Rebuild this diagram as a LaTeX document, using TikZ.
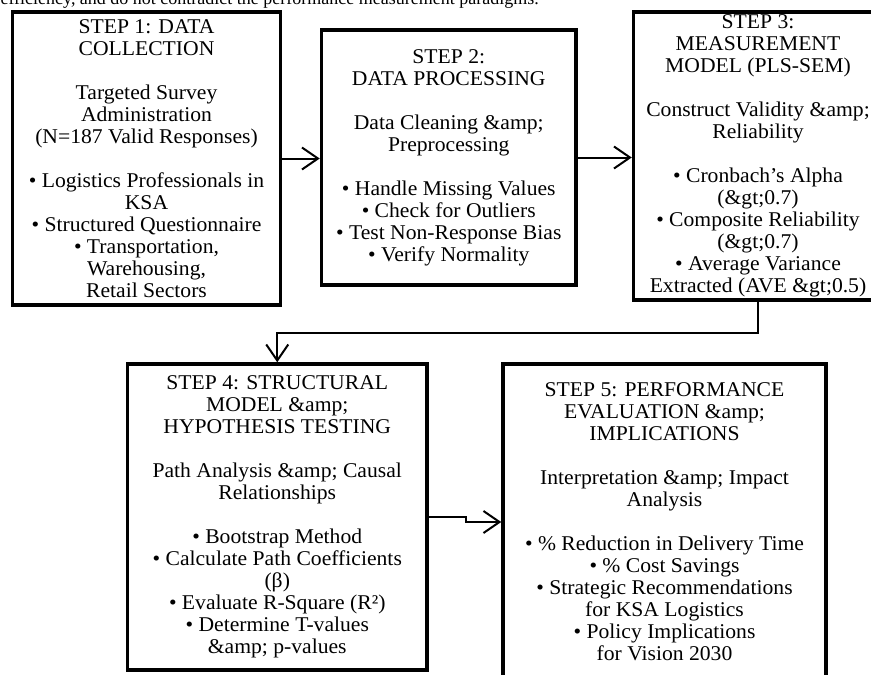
\documentclass[tikz,border=0pt]{standalone}
\usepackage{fontspec}
\setmainfont{Liberation Serif}[FakeStretch=1.03]
\newfontfamily\leadfont{Liberation Serif}
\usetikzlibrary{arrows.meta,positioning}
\newcommand{\gap}{\\[22pt]}

\begin{document}
\begin{tikzpicture}[
  x=1pt, y=-1pt,
  font=\fontsize{21}{22}\selectfont,
  stepbox/.style={
    draw,
    line width=3.5pt,
    align=center,
    inner sep=0pt,
    fill=white
  },
  flow/.style={-{Straight Barb[length=16pt,width=22pt,line width=2pt]}, line width=2pt}
]
\useasboundingbox (0,0) rectangle (871,675);
\clip (0,0) rectangle (871,675);

\node[anchor=base west, font=\leadfont\fontsize{18}{22}\selectfont] (lead) at (-3,4) {efficiency, and do not contradict the performance measurement paradigms.};

\node[stepbox, minimum width=268pt, minimum height=293pt] (collect) at (146.5,158.5) {STEP 1: DATA\\COLLECTION\gap
  Targeted Survey\\Administration\\(N=187 Valid Responses)\gap
  • Logistics Professionals in\\KSA\\• Structured Questionnaire\\• Transportation,\\Warehousing,\\Retail Sectors};
\node[stepbox, minimum width=254.5pt, minimum height=255pt] (process) at (448.75,157.5) {STEP 2:\\DATA PROCESSING\gap
  Data Cleaning \&amp;\\Preprocessing\gap
  • Handle Missing Values\\• Check for Outliers\\• Test Non-Response Bias\\• Verify Normality};
\node[stepbox, minimum width=249pt, minimum height=288pt] (measure) at (758,156) {STEP 3:\\MEASUREMENT\\MODEL (PLS-SEM)\gap
  Construct Validity \&amp;\\Reliability\gap
  • Cronbach's Alpha\\(\&gt;0.7)\\• Composite Reliability\\(\&gt;0.7)\\• Average Variance\\Extracted (AVE \&gt;0.5)};

\node[stepbox, minimum width=299.5pt, minimum height=306pt] (struct) at (277.25,517) {STEP 4: STRUCTURAL\\MODEL \&amp;\\HYPOTHESIS TESTING\gap
  Path Analysis \&amp; Causal\\Relationships\gap
  • Bootstrap Method\\• Calculate Path Coefficients\\(β)\\• Evaluate R-Square (R²)\\• Determine T-values\\\&amp; p-values};
\node[stepbox, minimum width=323pt, minimum height=316pt] (perform) at (664.5,522) {STEP 5: PERFORMANCE\\EVALUATION \&amp;\\IMPLICATIONS\gap
  Interpretation \&amp; Impact\\Analysis\gap
  • \% Reduction in Delivery Time\\• \% Cost Savings\\• Strategic Recommendations\\for KSA Logistics\\• Policy Implications\\for Vision 2030};

\draw[flow] (collect.east) -- (collect.east -| process.west);
\draw[flow] (process.east) -- (process.east -| measure.west);
\draw[flow] (measure.south) -- ++(0,31) -| (struct.north);
\draw[flow] (struct.east) -- ++(37,0) |- (perform.west);

\end{tikzpicture}
\end{document}
